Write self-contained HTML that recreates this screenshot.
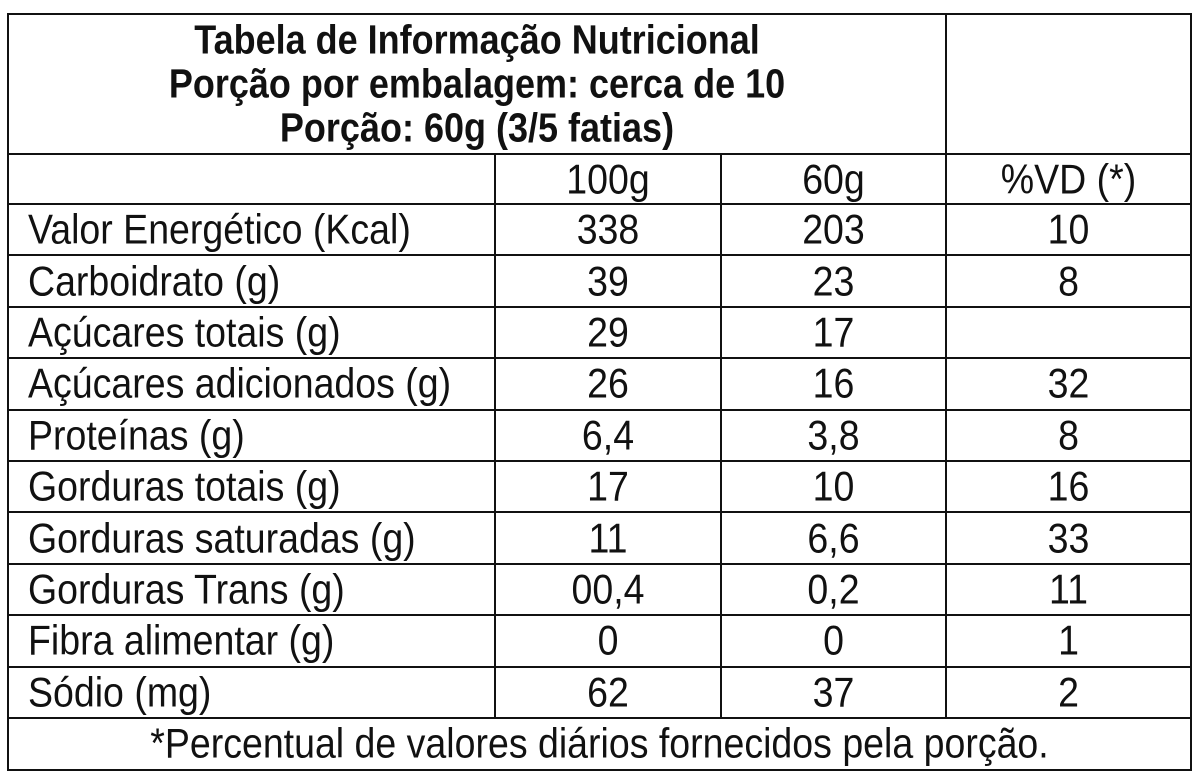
<!DOCTYPE html>
<html><head><meta charset="utf-8"><style>
body{margin:0;width:1200px;height:778px;background:#fff;position:relative;overflow:hidden;font-family:"Liberation Sans",Arial,sans-serif;color:#111}
.l{position:absolute;background:#111}
.c{position:absolute;display:flex;align-items:center;font-size:37.5px;white-space:nowrap}
.c span,.t span{display:inline-block;transform:scaleY(1.12)}
.ctr{justify-content:center}
.t{display:flex;justify-content:center;height:44px;align-items:center}
</style></head><body>
<div class="l" style="left:7px;top:13px;width:1185px;height:2px"></div>
<div class="l" style="left:7px;top:769px;width:1185px;height:2px"></div>
<div class="l" style="left:7px;top:13px;width:2px;height:758px"></div>
<div class="l" style="left:1190px;top:13px;width:2px;height:758px"></div>
<div class="l" style="left:945px;top:13px;width:2px;height:705px"></div>
<div class="l" style="left:494px;top:153px;width:2px;height:565px"></div>
<div class="l" style="left:720px;top:153px;width:2px;height:565px"></div>
<div style="position:absolute;left:9px;top:18px;width:936px;font-weight:bold;font-size:36px;text-align:center">
<div class="t"><span>Tabela de Informação Nutricional</span></div><div class="t"><span>Porção por embalagem: cerca de 10</span></div><div class="t"><span>Porção: 60g (3/5 fatias)</span></div></div>
<div id="rows"></div>
<div class="c ctr" style="left:9px;top:718px;width:1181px;height:51px"><span>*Percentual de valores diários fornecidos pela porção.</span></div>
<script>
const labels=["Valor Energético (Kcal)","Carboidrato (g)","Açúcares totais (g)","Açúcares adicionados (g)","Proteínas (g)","Gorduras totais (g)","Gorduras saturadas (g)","Gorduras Trans (g)","Fibra alimentar (g)","Sódio (mg)"];
const per100=["338","39","29","26","6,4","17","11","00,4","0","62"];
const per60=["203","23","17","16","3,8","10","6,6","0,2","0","37"];
const vd=["10","8","","32","8","16","33","11","1","2"];
const heads=["100g","60g","%VD (*)"];
const R=document.getElementById('rows');
const cols=[[9,485],[496,224],[722,223],[947,243]];
const rowH=51.4;
function cell(txt,ci,y,h,name,center){
  const d=document.createElement('div');
  d.className='c'+(center?' ctr':'');
  d.style.left=cols[ci][0]+(center?0:19)+'px';d.style.top=y+'px';
  d.style.width=cols[ci][1]+'px';d.style.height=h+'px';
  const s=document.createElement('span');s.textContent=txt;d.appendChild(s);
  
  
  R.appendChild(d);
}
function line(y){
  const d=document.createElement('div');d.className='l';
  d.style.left='7px';d.style.top=y+'px';d.style.width='1185px';d.style.height='2px';
  
  
  R.appendChild(d);
}
line(153);
heads.forEach((h,i)=>cell(h,i+1,155,49,'column-header',true));
for(let i=0;i<labels.length;i++){
  const y=204+i*rowH;
  line(Math.round(y)-1);
  cell(labels[i],0,y,rowH,'nutrient-label',false);
  cell(per100[i],1,y,rowH,'value-100g',true);
  cell(per60[i],2,y,rowH,'value-60g',true);
  cell(vd[i],3,y,rowH,'value-vd',true);
}
line(717);
</script>
</body></html>
